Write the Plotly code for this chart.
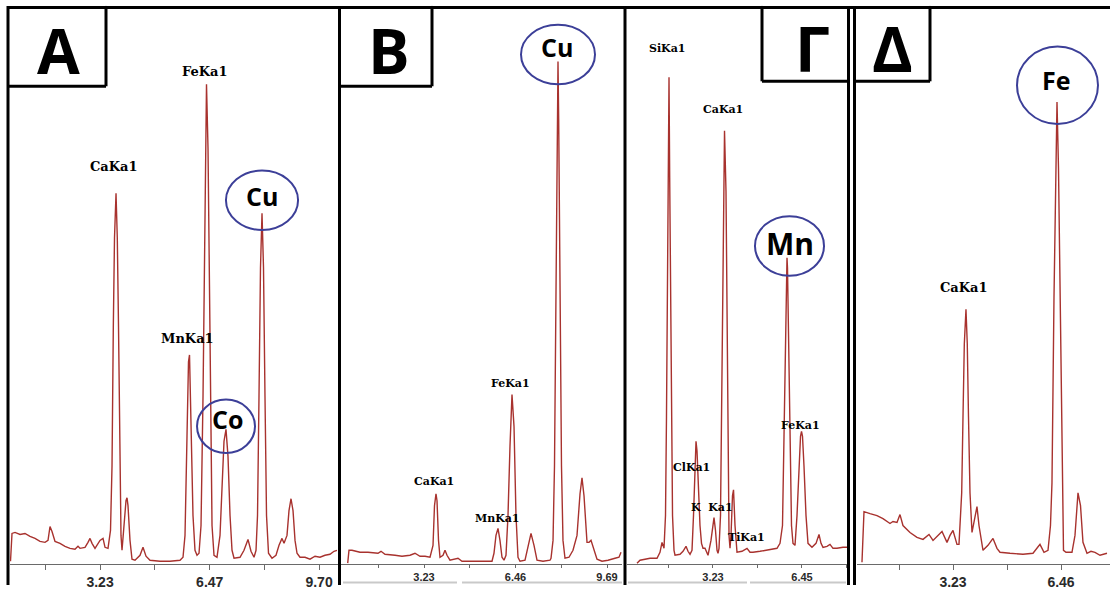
import plotly.graph_objects as go

# ---------------- spectra (energy in keV, intensity in counts) ----------------
a_energy = [0.585, 0.629, 0.718, 0.866, 1.013, 1.161, 1.309, 1.456, 1.604, 1.693,
            1.752, 1.811, 1.900, 2.047, 2.195, 2.343, 2.490, 2.579, 2.638, 2.786,
            2.874, 2.934, 2.993, 3.081, 3.229, 3.318, 3.377, 3.465, 3.539, 3.584,
            3.622, 3.657, 3.702, 3.740, 3.776, 3.814, 3.849, 3.879, 3.938, 3.997,
            4.027, 4.056, 4.115, 4.174, 4.263, 4.411, 4.499, 4.588, 4.706, 5.001,
            5.297, 5.592, 5.681, 5.740, 5.799, 5.843, 5.873, 5.917, 5.976, 6.035,
            6.095, 6.154, 6.213, 6.272, 6.331, 6.375, 6.420, 6.479, 6.538, 6.597,
            6.685, 6.774, 6.833, 6.892, 6.951, 7.010, 7.070, 7.129, 7.188, 7.365,
            7.483, 7.601, 7.690, 7.779, 7.838, 7.882, 7.926, 7.970, 8.015, 8.059,
            8.103, 8.148, 8.207, 8.310, 8.428, 8.517, 8.606, 8.665, 8.753, 8.812,
            8.872, 8.931, 8.990, 9.049, 9.137, 9.285, 9.433, 9.581, 9.728, 9.876,
            10.024, 10.142, 10.231]
a_counts = [3, 31, 32, 30, 31, 28, 26, 23, 22, 24,
            38, 33, 23, 21, 18, 16, 15, 18, 16, 17,
            22, 26, 21, 16, 24, 26, 17, 16, 34, 99,
            239, 329, 374, 329, 239, 99, 29, 14, 39, 64,
            67, 59, 24, 5, 4, 9, 17, 8, 4, 3,
            3, 4, 7, 29, 129, 204, 211, 149, 49, 14,
            9, 11, 39, 169, 369, 484, 419, 219, 39, 9,
            7, 29, 69, 124, 136, 109, 49, 14, 6, 7,
            14, 25, 13, 7, 14, 49, 169, 299, 354, 299,
            169, 49, 11, 6, 9, 19, 26, 21, 29, 54,
            66, 54, 24, 11, 7, 7, 5, 8, 7, 9,
            10, 13, 14]

b_energy = [0.537, 0.582, 0.688, 0.971, 1.253, 1.606, 1.712, 1.853, 2.206, 2.453,
            2.736, 2.912, 3.089, 3.265, 3.442, 3.548, 3.600, 3.653, 3.689, 3.742,
            3.795, 3.901, 3.971, 4.042, 4.147, 4.324, 4.430, 4.571, 4.853, 5.206,
            5.630, 5.700, 5.771, 5.842, 5.912, 5.983, 6.054, 6.124, 6.195, 6.265,
            6.336, 6.407, 6.477, 6.548, 6.619, 6.795, 6.901, 7.007, 7.113, 7.219,
            7.431, 7.678, 7.713, 7.784, 7.836, 7.889, 7.935, 7.960, 7.984, 8.030,
            8.083, 8.136, 8.207, 8.348, 8.489, 8.631, 8.737, 8.807, 8.878, 8.984,
            9.054, 9.125, 9.231, 9.337, 9.513, 9.725, 9.972, 10.113, 10.184]
b_counts = [1, 14, 14, 12, 12, 11, 13, 10, 9, 8,
            9, 11, 8, 8, 7, 19, 59, 71, 64, 24,
            7, 9, 14, 9, 4, 5, 6, 3, 3, 3,
            3, 11, 29, 36, 24, 7, 4, 9, 49, 119,
            171, 139, 49, 7, 3, 4, 19, 31, 19, 4,
            3, 4, 6, 24, 99, 269, 449, 507, 449, 269,
            99, 24, 6, 7, 14, 29, 71, 87, 69, 22,
            22, 24, 14, 5, 3, 4, 6, 7, 12]

g_energy = [0.481, 0.590, 0.952, 1.205, 1.313, 1.386, 1.458, 1.512, 1.548, 1.585,
            1.614, 1.639, 1.664, 1.693, 1.729, 1.766, 1.820, 1.856, 2.037, 2.146,
            2.254, 2.326, 2.399, 2.471, 2.525, 2.580, 2.616, 2.652, 2.706, 2.760,
            2.815, 2.869, 2.941, 3.050, 3.158, 3.231, 3.267, 3.321, 3.376, 3.412,
            3.448, 3.502, 3.546, 3.575, 3.604, 3.647, 3.701, 3.737, 3.784, 3.810,
            3.846, 3.882, 3.936, 3.973, 4.027, 4.099, 4.280, 4.461, 4.570, 4.678,
            4.931, 5.185, 5.546, 5.655, 5.745, 5.800, 5.854, 5.890, 5.908, 5.926,
            5.962, 6.017, 6.071, 6.125, 6.198, 6.270, 6.342, 6.397, 6.433, 6.469,
            6.523, 6.596, 6.668, 6.812, 6.957, 7.066, 7.139, 7.211, 7.356, 7.464,
            7.573, 7.717, 7.934, 8.115]
g_counts = [1, 4, 6, 6, 12, 22, 16, 49, 149, 269,
            389, 491, 389, 269, 149, 49, 14, 9, 10, 13,
            18, 13, 10, 14, 49, 99, 124, 114, 69, 39,
            21, 16, 16, 9, 24, 41, 47, 34, 14, 11,
            16, 49, 176, 269, 376, 437, 376, 269, 149, 29,
            16, 29, 69, 75, 39, 12, 13, 16, 12, 12,
            13, 14, 16, 21, 39, 129, 229, 299, 309, 299,
            229, 129, 39, 21, 19, 49, 99, 129, 134, 129,
            99, 49, 21, 17, 21, 30, 21, 17, 18, 20,
            16, 16, 17, 17]

d_energy = [0.508, 0.568, 0.748, 0.957, 1.136, 1.346, 1.435, 1.555, 1.645, 1.734,
            1.944, 2.153, 2.333, 2.512, 2.632, 2.781, 2.901, 3.050, 3.140, 3.230,
            3.349, 3.409, 3.490, 3.529, 3.568, 3.618, 3.657, 3.693, 3.738, 3.798,
            3.873, 3.947, 4.007, 4.067, 4.127, 4.276, 4.426, 4.545, 4.635, 4.934,
            5.323, 5.622, 5.742, 5.831, 5.951, 6.071, 6.145, 6.190, 6.250, 6.295,
            6.340, 6.385, 6.429, 6.489, 6.534, 6.609, 6.788, 6.878, 6.968, 7.043,
            7.117, 7.237, 7.356, 7.476, 7.626, 7.835]
d_counts = [2, 53, 51, 49, 46, 41, 43, 42, 50, 39,
            32, 27, 25, 30, 24, 29, 33, 22, 29, 34,
            20, 20, 72, 149, 222, 257, 222, 149, 72, 32,
            44, 58, 39, 24, 14, 19, 26, 16, 12, 11,
            10, 11, 16, 20, 12, 14, 39, 82, 269, 399,
            466, 399, 269, 82, 14, 12, 12, 29, 72, 59,
            22, 11, 13, 12, 9, 11]

# axis ticks and their labels (keV)
a_ticks = [1.615, 3.23, 4.845, 6.47, 8.085, 9.70]
a_ticktext = ["", "3.23", "", "6.47", "", "9.70"]
b_ticks = [1.615, 3.23, 4.845, 6.46, 8.075, 9.69]
b_ticktext = ["", "3.23", "", "6.46", "", "9.69"]
g_ticks = [1.615, 3.23, 4.84, 6.45, 8.06]
g_ticktext = ["", "3.23", "", "6.45", ""]
d_ticks = [1.615, 3.23, 4.845, 6.46]
d_ticktext = ["", "3.23", "", "6.46"]

# peak labels: (text, energy, counts)
a_labels = [("CaKa1", 3.64, 401), ("FeKa1", 6.33, 497), ("MnKa1", 5.80, 228)]
b_labels = [("CaKa1", 3.58, 83), ("MnKa1", 5.84, 46), ("FeKa1", 6.27, 182)]
g_labels = [("SiKa1", 1.57, 520), ("CaKa1", 3.59, 459), ("ClKa1", 2.47, 98),
            ("K\u00a0 Ka1", 3.19, 57), ("TiKa1", 4.46, 27), ("FeKa1", 6.41, 140)]
d_labels = [("CaKa1", 3.56, 279)]

# circled elements: (text, energy centre, counts centre, e0, e1, c0, c1)
a_marks = [("Cu", 8.015, 371, 6.95, 9.08, 337, 397),
           ("Co", 7.01, 146, 6.095, 7.808, 112, 166)]
b_marks = [("Cu", 7.925, 522, 6.654, 9.266, 484, 544)]
g_marks = [("Mn", 6.02, 323, 4.750, 7.247, 291, 351)]
d_marks = [("Fe", 6.31, 488, 5.144, 7.566, 444, 522)]

W, H = 1110, 590


def fx(px):
    return px / W


def fy(py):
    return 1 - py / H


LINE = "#a8322e"
panels = [
    # name, energy, counts, x-domain px, x-range, ticks, ticktext, tick font, tick length, label font, labels, marks
    ("A", a_energy, a_counts, (10, 337.5), (0.570, 10.245), a_ticks, a_ticktext, 14, 5, 13, a_labels, a_marks),
    ("B", b_energy, b_counts, (341, 622), (0.300, 10.219), b_ticks, b_ticktext, 11, 3, 11, b_labels, b_marks),
    ("Γ", g_energy, g_counts, (627, 847), (0.119, 8.079), g_ticks, g_ticktext, 11, 3, 11, g_labels, g_marks),
    ("Δ", d_energy, d_counts, (856.5, 1110), (0.344, 7.925), d_ticks, d_ticktext, 14, 5, 13, d_labels, d_marks),
]

fig = go.Figure()
annotations = []
shapes = []

for i, (name, en, ct, dom, rng, tv, tt, tfs, tl, lfs, labels, marks) in enumerate(panels):
    sfx = "" if i == 0 else str(i + 1)
    xa, ya = "x" + sfx, "y" + sfx
    fig.add_trace(go.Scatter(x=en, y=ct, mode="lines", xaxis=xa, yaxis=ya,
                             line=dict(color=LINE, width=1.4), hoverinfo="skip"))
    fig.layout["xaxis" + sfx] = dict(
        domain=[fx(dom[0]), fx(dom[1])], range=list(rng), anchor=ya,
        showgrid=False, zeroline=False, showline=True, linecolor="#6a6a6a", linewidth=1,
        ticks="outside", ticklen=tl, tickcolor="#6a6a6a", tickwidth=1,
        tickvals=tv, ticktext=tt, ticklabelstandoff=0,
        tickfont=dict(family="Liberation Sans", size=tfs, color="#2a2a2a", weight="bold"),
    )
    fig.layout["yaxis" + sfx] = dict(
        domain=[fy(569), fy(8)], range=[0, 561], anchor=xa, visible=False,
    )
    for txt, e, c in labels:
        annotations.append(dict(x=e, y=c, xref=xa, yref=ya, text=txt, showarrow=False,
                                xanchor="center", yanchor="middle",
                                font=dict(family="DejaVu Serif", size=lfs, color="black", weight="bold")))
    for txt, e, c, e0, e1, c0, c1 in marks:
        shapes.append(dict(type="circle", xref=xa, yref=ya, x0=e0, x1=e1, y0=c0, y1=c1,
                           line=dict(color="#3c3f98", width=2)))
        size = 30 if txt == "Mn" else 25
        annotations.append(dict(x=e, y=c, xref=xa, yref=ya, text=txt, showarrow=False,
                                xanchor="center", yanchor="middle",
                                font=dict(family="Open Sans", size=size, color="black", weight="bold")))

# panel frames
BLK = dict(color="black", width=3)
frame_lines = [
    (7, 7.5, 1110, 7.5),       # top edge
    (8, 6, 8, 590),            # A left
    (339.5, 6, 339.5, 590),    # A | B
    (625, 6, 625, 590),        # B | Γ
    (848.5, 6, 848.5, 590),    # Γ right
    (854.5, 6, 854.5, 590),    # Δ left
    # letter boxes
    (106, 6, 106, 87), (8, 87, 106, 87),
    (432, 6, 432, 87), (339.5, 87, 432, 87),
    (762, 6, 762, 82), (762, 82, 848.5, 82),
    (930, 6, 930, 82), (854.5, 82, 930, 82),
]
for x0, y0, x1, y1 in frame_lines:
    shapes.append(dict(type="line", xref="paper", yref="paper",
                       x0=fx(x0), y0=fy(y0), x1=fx(x1), y1=fy(y1), line=BLK))

# scroll bars under the B and Γ axes
for x0, x1 in [(343, 457), (462, 622), (628, 747), (750, 846)]:
    shapes.append(dict(type="line", xref="paper", yref="paper",
                       x0=fx(x0), y0=fy(587.5), x1=fx(x1), y1=fy(587.5),
                       line=dict(color="#c9c9c9", width=2)))

# panel letters
for txt, px, py in [("A", 58, 50), ("B", 389, 50), ("Γ", 812, 48), ("Δ", 892, 48)]:
    annotations.append(dict(x=fx(px), y=fy(py), xref="paper", yref="paper", text=txt,
                            showarrow=False, xanchor="center", yanchor="middle",
                            font=dict(family="Open Sans", size=62, color="black", weight="bold")))

fig.update_layout(
    width=W, height=H, margin=dict(l=0, r=0, t=0, b=0),
    paper_bgcolor="white", plot_bgcolor="white", showlegend=False,
    annotations=annotations, shapes=shapes,
)

fig.write_html("out.html")
